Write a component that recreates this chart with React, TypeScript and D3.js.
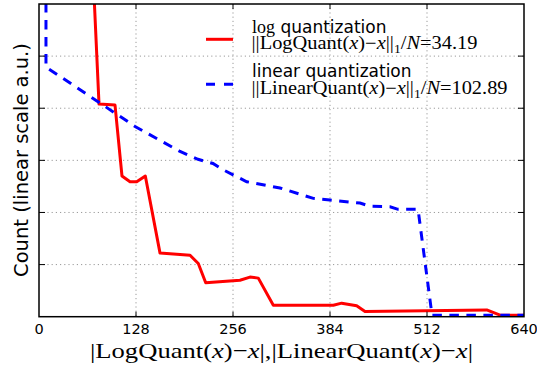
import React from 'react'
import * as d3 from 'd3'

// |LogQuant(x)-x| histogram (linear count, arbitrary units)
const logX = [70, 79.2, 100.3, 109.5, 120.1, 128.9, 140.3, 159.7, 199.3, 210.2, 220.0, 265.2, 278.4, 289.4, 309.2, 388.4, 399.4, 419.2, 430.2, 590.8, 608.4, 640]
const logCount = [7, 4.08, 4.06, 2.7, 2.59, 2.59, 2.7, 1.22, 1.18, 1.02, 0.65, 0.7, 0.76, 0.74, 0.22, 0.22, 0.26, 0.21, 0.1, 0.13, 0.03, 0.03]

// |LinearQuant(x)-x| histogram
const linX = [9.2, 9.2, 80.5, 126.7, 186.1, 209.8, 229.6, 242.8, 274.1, 318.0, 362.0, 384.0, 423.6, 436.8, 463.2, 473.8, 500.2, 518.6, 640]
const linCount = [7, 4.79, 4.1, 3.65, 3.17, 3.02, 2.94, 2.82, 2.59, 2.47, 2.27, 2.24, 2.18, 2.12, 2.11, 2.06, 2.06, 0.03, 0.03]

const xTicks = [0, 128, 256, 384, 512, 640]
const yTicks = [0, 1, 2, 3, 4, 5, 6]

const logNorm = '34.19'
const linNorm = '102.89'

const W = 537
const H = 370
const left = 39
const right = 524
const top = 4
const bottom = 316.7

const sans = 'DejaVu Sans'
const serif = 'Liberation Serif, DejaVu Serif, serif'

function NormLine({x, y, name, value, len}: {x: number; y: number; name: string; value: string; len: number}) {
  return (
    <text x={x} y={y} fontFamily={serif} fontSize={18} textLength={len} lengthAdjust="spacingAndGlyphs">
      <tspan>||{name}(</tspan>
      <tspan fontStyle="italic">x</tspan>
      <tspan>)−</tspan>
      <tspan fontStyle="italic">x</tspan>
      <tspan>||</tspan>
      <tspan fontSize={12} dy={4}>1</tspan>
      <tspan dy={-4}>/</tspan>
      <tspan fontStyle="italic">N</tspan>
      <tspan>={value}</tspan>
    </text>
  )
}

export default function App() {
  const x = d3.scaleLinear().domain([0, 640]).range([left, right])
  const y = d3.scaleLinear().domain([0, 6]).range([bottom, top])

  const line = d3
    .line<[number, number]>()
    .x(d => x(d[0]))
    .y(d => y(d[1]))

  const logPts = logX.map((v, i) => [v, logCount[i]] as [number, number])
  const linPts = linX.map((v, i) => [v, linCount[i]] as [number, number])

  return (
    <svg width={W} height={H} style={{position: 'absolute', left: 0, top: 0}}>
      <defs>
        <clipPath id="plot">
          <rect x={left} y={top} width={right - left} height={bottom - top} />
        </clipPath>
      </defs>
      <rect x={0} y={0} width={W} height={H} fill="#fff" />

      {/* grid */}
      {xTicks.slice(1, -1).map(t => (
        <line key={'gx' + t} x1={x(t)} x2={x(t)} y1={top} y2={bottom} stroke="#9a9a9a" strokeWidth={1} strokeDasharray="1.2,3" />
      ))}
      {yTicks.slice(1, -1).map(t => (
        <line key={'gy' + t} x1={left} x2={right} y1={y(t)} y2={y(t)} stroke="#9a9a9a" strokeWidth={1} strokeDasharray="1.2,3" />
      ))}

      <g clipPath="url(#plot)">
        <path d={line(logPts) || ''} fill="none" stroke="#ff0000" strokeWidth={3} strokeLinejoin="round" />
        <path d={line(linPts) || ''} fill="none" stroke="#0000ff" strokeWidth={3} strokeDasharray="9.5,7.5" />
      </g>

      {/* ticks, inward on all sides */}
      {xTicks.slice(1, -1).map(t => (
        <g key={'tx' + t} stroke="#000" strokeWidth={1}>
          <line x1={x(t)} x2={x(t)} y1={bottom} y2={bottom - 5} />
          <line x1={x(t)} x2={x(t)} y1={top} y2={top + 5} />
        </g>
      ))}
      {yTicks.slice(1, -1).map(t => (
        <g key={'ty' + t} stroke="#000" strokeWidth={1}>
          <line x1={left} x2={left + 6} y1={y(t)} y2={y(t)} />
          <line x1={right} x2={right - 6} y1={y(t)} y2={y(t)} />
        </g>
      ))}
      <rect x={left} y={top} width={right - left} height={bottom - top} fill="none" stroke="#000" strokeWidth={1.5} />

      {xTicks.map(t => (
        <text key={'lx' + t} x={x(t)} y={334} textAnchor="middle" fontFamily={sans} fontSize={14.5}>
          {t}
        </text>
      ))}

      <text x={(left + right) / 2} y={358} textAnchor="middle" fontFamily={serif} fontSize={22} textLength={383} lengthAdjust="spacingAndGlyphs">
        <tspan>|LogQuant(</tspan>
        <tspan fontStyle="italic">x</tspan>
        <tspan>)−</tspan>
        <tspan fontStyle="italic">x</tspan>
        <tspan>|,|LinearQuant(</tspan>
        <tspan fontStyle="italic">x</tspan>
        <tspan>)−</tspan>
        <tspan fontStyle="italic">x</tspan>
        <tspan>|</tspan>
      </text>

      <text transform="translate(28,160) rotate(-90)" textAnchor="middle" fontFamily={sans} fontSize={19.5}>
        Count (linear scale a.u.)
      </text>

      {/* legend */}
      <line x1={206} x2={233} y1={39.3} y2={39.3} stroke="#ff0000" strokeWidth={3} />
      <text x={252} y={33} fontSize={17}>
        <tspan fontFamily={serif} fontSize={18}>log</tspan>
        <tspan fontFamily={sans}> quantization</tspan>
      </text>
      <NormLine x={251.5} y={49} name="LogQuant" value={logNorm} len={226} />

      <line x1={206} x2={233} y1={84.3} y2={84.3} stroke="#0000ff" strokeWidth={3} strokeDasharray="9,9" />
      <text x={252} y={77} fontFamily={sans} fontSize={17}>
        linear quantization
      </text>
      <NormLine x={251.5} y={94} name="LinearQuant" value={linNorm} len={256} />
    </svg>
  )
}
